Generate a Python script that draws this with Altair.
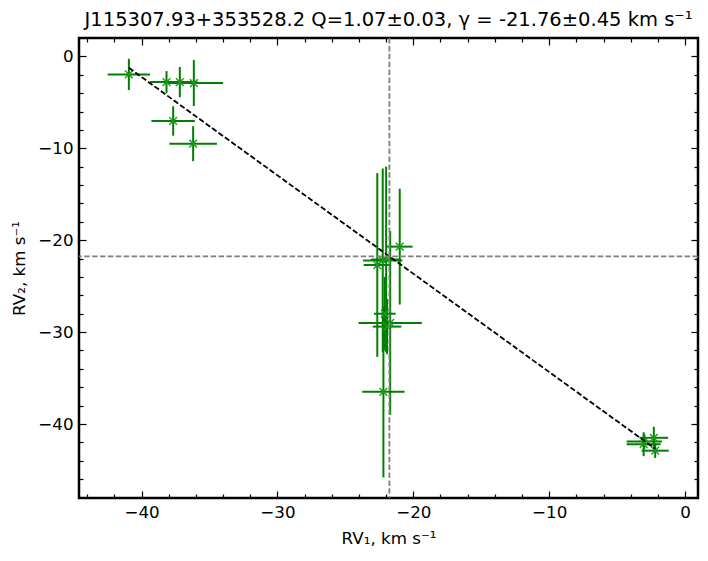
import altair as alt
import pandas as pd

# Data
rv1 = [-40.93, -38.16, -37.18, -36.15, -37.67, -36.20,
       -21.00, -22.65, -22.25, -22.00, -21.70, -21.93, -22.10, -22.20,
       -3.05, -2.30, -2.20, -3.00]
rv1_err = [1.56, 1.20, 1.30, 2.15, 1.60, 1.75,
           0.95, 1.00, 1.45, 1.10, 2.33, 1.05, 0.80, 1.56,
           1.25, 1.05, 1.00, 1.30]
rv2 = [-1.96, -2.80, -2.80, -2.90, -7.03, -9.50,
       -20.70, -22.70, -22.20, -22.10, -29.00, -29.40, -28.00, -36.50,
       -42.20, -41.50, -42.90, -41.90]
rv2_err = [1.70, 1.20, 1.65, 2.50, 1.60, 1.90,
           6.30, 10.00, 10.00, 10.10, 10.00, 3.00, 4.00, 9.30,
           1.30, 1.20, 0.80, 0.80]

gamma = -21.76
Q = 1.07

x_major = [-40, -30, -20, -10, 0]
x_minor = [-44, -42, -38, -36, -34, -32, -28, -26, -24, -22, -18, -16, -14, -12,
           -8, -6, -4, -2]
y_major = [0, -10, -20, -30, -40]
y_minor = [-46, -44, -42, -38, -36, -34, -32, -28, -26, -24, -22, -18, -16, -14,
           -12, -8, -6, -4, -2]

title_text = "J115307.93+353528.2 Q=1.07±0.03, γ = -21.76±0.45 km s⁻¹"
x_title = "RV₁, km s⁻¹"
y_title = "RV₂, km s⁻¹"

df = pd.DataFrame({"x": rv1, "xe": rv1_err, "y": rv2, "ye": rv2_err})
df["xlo"] = df["x"] - df["xe"]
df["xhi"] = df["x"] + df["xe"]
df["ylo"] = df["y"] - df["ye"]
df["yhi"] = df["y"] + df["ye"]

xl = [min(rv1), max(rv1)]
fit = pd.DataFrame({"x": xl, "y": [gamma - Q * (v - gamma) for v in xl]})
gdf = pd.DataFrame({"g": [gamma]})

xs = alt.Scale(domain=[-44.6, 0.95], nice=False, zero=False)
ys = alt.Scale(domain=[-48.05, 2.0], nice=False, zero=False)

FONT = "DejaVu Sans"
GREEN = "#008000"


def ax(orient, values, size, labels=False, title="", title_pad=8):
    kw = dict(orient=orient, values=values, tickSize=size, offset=-size,
              domain=False, grid=False, tickColor="black", tickWidth=1.2,
              labels=labels, title=title)
    if labels:
        kw.update(labelFont=FONT, labelFontSize=16.7, labelColor="black",
                  labelPadding=6, format="d",
                  labelExpr="replace(datum.label, '-', '\u2212')",
                  titleFont=FONT, titleFontSize=16.7, titleFontWeight="normal",
                  titleColor="black", titlePadding=title_pad)
    return alt.Axis(**kw)


xerr = alt.Chart(df).mark_rule(color=GREEN, strokeWidth=2).encode(
    x=alt.X("xlo:Q", scale=xs,
            axis=ax("bottom", x_major, 7, True, x_title, 10)),
    x2="xhi:Q",
    y=alt.Y("y:Q", scale=ys, axis=ax("left", y_major, 7, True, y_title, 9)),
)

yerr = alt.Chart(df).mark_rule(color=GREEN, strokeWidth=2).encode(
    x=alt.X("x:Q", scale=xs, axis=ax("bottom", x_minor, 4)),
    y=alt.Y("ylo:Q", scale=ys, axis=ax("left", y_minor, 4)),
    y2="yhi:Q",
)

pts = alt.Chart(df).mark_point(
    shape="M-1,-1L1,1M1,-1L-1,1", filled=False, color="#1f9a1f",
    strokeWidth=1.4, size=60, opacity=1,
).encode(
    x=alt.X("x:Q", scale=xs, axis=ax("top", x_major, 7)),
    y=alt.Y("y:Q", scale=ys, axis=ax("right", y_major, 7)),
)

line = alt.Chart(fit).mark_line(color="black", strokeWidth=1.8,
                                strokeDash=[5.5, 2.4]).encode(
    x=alt.X("x:Q", scale=xs, axis=ax("top", x_minor, 4)),
    y=alt.Y("y:Q", scale=ys, axis=ax("right", y_minor, 4)),
)

vline = alt.Chart(gdf).mark_rule(color="#808080", strokeWidth=1.8,
                                 strokeDash=[5.5, 2.4]).encode(
    x=alt.X("g:Q", scale=xs, axis=None),
)
hline = alt.Chart(gdf).mark_rule(color="#808080", strokeWidth=1.8,
                                 strokeDash=[5.5, 2.4]).encode(
    y=alt.Y("g:Q", scale=ys, axis=None),
)

chart = alt.layer(xerr, yerr, pts, line, vline, hline).resolve_axis(
    x="independent", y="independent"
).properties(
    width=619, height=460,
    title=alt.TitleParams(title_text, font=FONT, fontSize=19.5,
                          fontWeight="normal", color="black", offset=7),
    autosize=alt.AutoSizeParams(type="none"),
    padding={"left": 71, "top": 30, "right": 2, "bottom": 55},
).configure_view(stroke="black", strokeWidth=2.5)

chart.save("out.html", embed_options={"renderer": "svg", "actions": False})
